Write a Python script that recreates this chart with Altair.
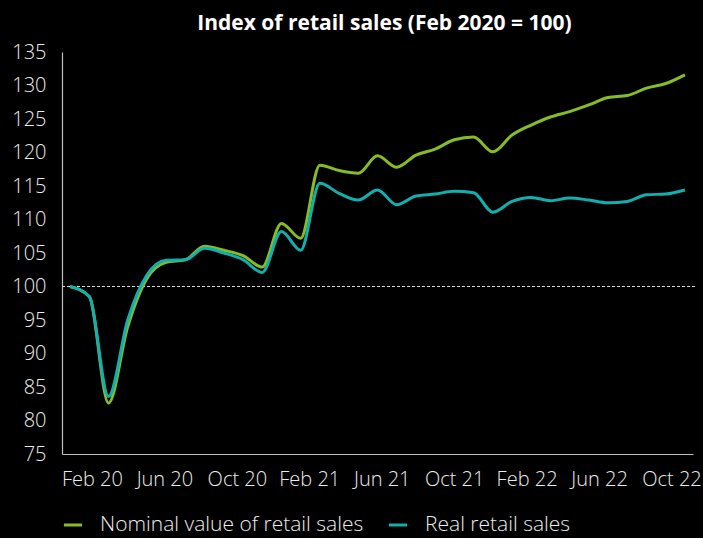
import altair as alt
import pandas as pd

months = ["Feb 20","Mar 20","Apr 20","May 20","Jun 20","Jul 20","Aug 20","Sep 20","Oct 20","Nov 20",
          "Dec 20","Jan 21","Feb 21","Mar 21","Apr 21","May 21","Jun 21","Jul 21","Aug 21","Sep 21",
          "Oct 21","Nov 21","Dec 21","Jan 22","Feb 22","Mar 22","Apr 22","May 22","Jun 22","Jul 22",
          "Aug 22","Sep 22","Oct 22"]
nominal = [100.0, 98.5, 82.6, 94.0, 101.2, 103.6, 104.0, 106.0, 105.4, 104.6,
           102.9, 109.4, 107.2, 118.1, 117.3, 116.9, 119.5, 117.8, 119.6, 120.5,
           121.9, 122.3, 120.1, 122.6, 124.1, 125.3, 126.1, 127.1, 128.2, 128.5,
           129.6, 130.3, 131.6]
real = [100.0, 98.5, 83.6, 95.0, 101.7, 103.9, 104.0, 105.7, 105.0, 104.0,
        102.1, 108.2, 105.4, 115.4, 113.9, 112.9, 114.4, 112.2, 113.5, 113.8,
        114.2, 114.0, 111.1, 112.7, 113.3, 112.8, 113.2, 112.9, 112.5, 112.7,
        113.7, 113.8, 114.4]
series_names = ["Nominal value of retail sales", "Real retail sales"]
series_colors = ["#86BC25", "#12AFAF"]
tick_labels = ["Feb 20", "Jun 20", "Oct 20", "Feb 21", "Jun 21", "Oct 21", "Feb 22", "Jun 22", "Oct 22"]
y_ticks = list(range(75, 140, 5))

rows = []
for i, m in enumerate(months):
    rows.append({"idx": i, "month": m, "series": series_names[0], "value": nominal[i]})
    rows.append({"idx": i, "month": m, "series": series_names[1], "value": real[i]})
df = pd.DataFrame(rows)

# label positions as in the reference (evenly spread, slightly offset from months)
tick_pos = [round(1.14 + 3.77 * k, 3) for k in range(len(tick_labels))]
label_expr = "[" + ",".join(f"'{t}'" for t in tick_labels) + "]"
label_expr = label_expr + f"[round((datum.value - {tick_pos[0]}) / 3.77)]"

FONT = "Open Sans"
TXT = "#ececec"

x_enc = alt.X("idx:Q",
              scale=alt.Scale(domain=[-0.42, 32.42], nice=False, zero=False),
              axis=alt.Axis(values=tick_pos, labelExpr=label_expr, title=None, grid=False,
                            ticks=False, tickSize=0, labelPadding=15, labelFontSize=20,
                            labelFont=FONT, labelFontWeight=300, labelColor=TXT,
                            labelOverlap=False, domainColor="#bfbfbf", domainWidth=1.2,
                            labelFlush=False))
y_axis = alt.Axis(values=y_ticks, title=None, grid=False, ticks=False, tickSize=0,
                  labelPadding=16, labelFontSize=20, labelFont=FONT,
                  labelFontWeight=300, labelColor=TXT, labelOverlap=False,
                  domainColor="#bfbfbf", domainWidth=1.2)
y_scale = alt.Scale(domain=[75, 135], nice=False, zero=False)

lines = alt.Chart(df).mark_line(strokeWidth=3, interpolate="monotone").encode(
    x=x_enc,
    y=alt.Y("value:Q", scale=y_scale, axis=y_axis),
    color=alt.Color("series:N",
                    scale=alt.Scale(domain=series_names, range=series_colors),
                    legend=alt.Legend(title=None, orient="none", legendX=0, legendY=462,
                                      direction="horizontal", symbolType="stroke",
                                      symbolSize=330, symbolStrokeWidth=3,
                                      labelFontSize=21, labelFont=FONT, labelFontWeight=300,
                                      labelColor=TXT, labelOffset=16, labelLimit=0,
                                      columnPadding=18, padding=0)),
    detail="series:N",
)

ref_df = pd.DataFrame({"value": [100]})
ref = alt.Chart(ref_df).mark_rule(color="#d9d9d9", strokeDash=[3, 2], strokeWidth=1).encode(
    y=alt.Y("value:Q", scale=y_scale, axis=y_axis),
    x=alt.value(0),
    x2=alt.value(633),
)

chart = alt.layer(ref, lines).properties(
    width=631,
    height=402,
    title=alt.TitleParams("Index of retail sales (Feb 2020 = 100)", font=FONT, fontSize=21,
                          fontWeight="bold", color="#ffffff", anchor="middle", dx=7, offset=8),
    background="#000000",
    padding={"left": 62, "top": 52, "right": 10, "bottom": 84},
    autosize=alt.AutoSizeParams(type="none"),
).configure_view(stroke=None)

chart.save("out.html", embed_options={"renderer": "svg", "actions": False})
